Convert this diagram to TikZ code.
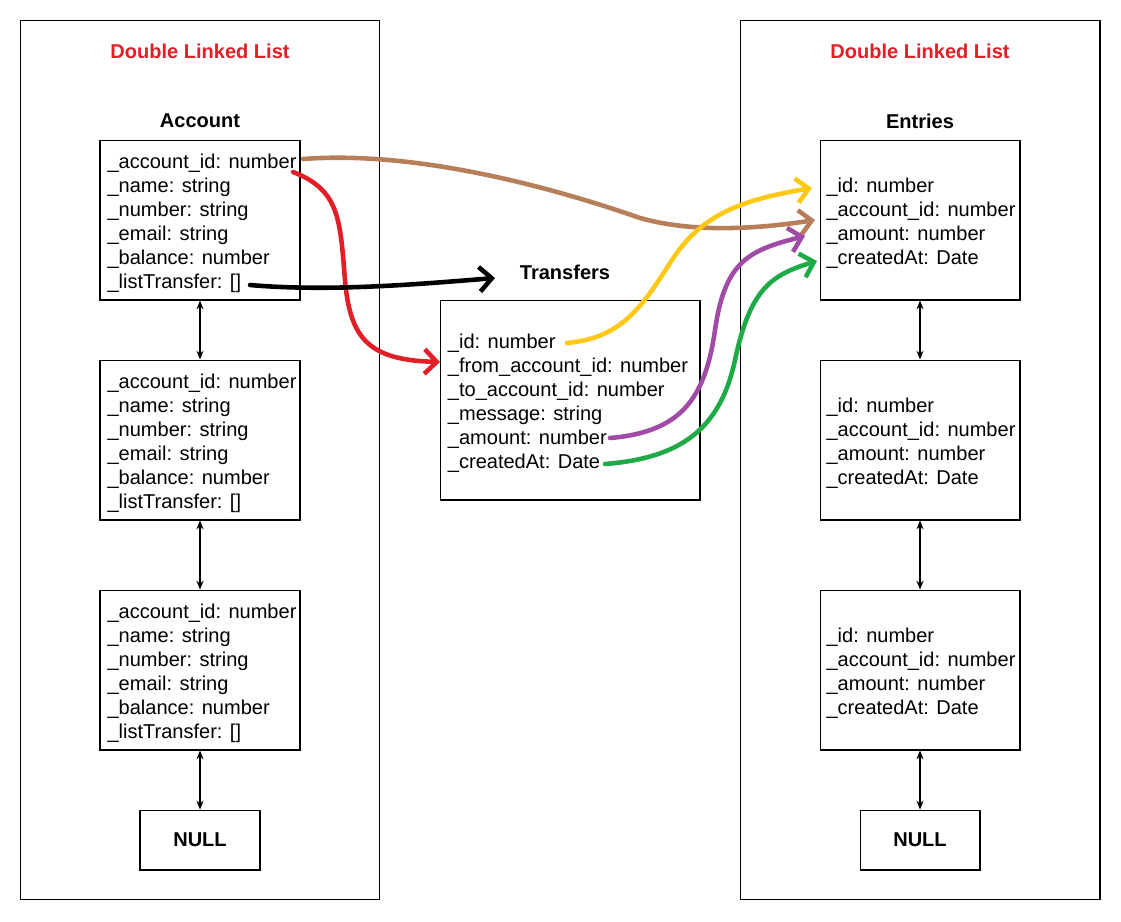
\documentclass[tikz,border=0pt]{standalone}
\usepackage{fontspec}
\setmainfont{Liberation Sans}
\usetikzlibrary{arrows.meta,calc}
\definecolor{titlered}{RGB}{226,31,38}
\definecolor{linkbrown}{RGB}{182,127,90}
\definecolor{linkred}{RGB}{226,31,38}
\definecolor{linkyellow}{RGB}{255,200,20}
\definecolor{linkpurple}{RGB}{160,75,165}
\definecolor{linkgreen}{RGB}{30,170,70}
\newcommand{\fieldsize}{\fontsize{11.4pt}{13.66pt}\selectfont}
\begin{document}
\begin{tikzpicture}[x=0.02cm,y=-0.02cm,
  every node/.style={inner sep=0pt, font=\fieldsize},
  listbox/.style={draw, line width=0.6pt, minimum width=7.2cm, minimum height=17.6cm},
  recbox/.style={draw, line width=0.6pt, minimum width=4cm, minimum height=3.2cm},
  fields/.style={align=left},
  nullbox/.style={draw, line width=0.6pt, minimum width=2.4cm, minimum height=1.2cm, font=\bfseries\fieldsize},
  title/.style={font=\bfseries\fieldsize},
  dlink/.style={line width=0.6pt, {Stealth[length=5pt,width=4pt]}-{Stealth[length=5pt,width=4pt]}},
  hand/.style={line width=2.6pt, line cap=round, line join=round, -{Straight Barb[length=7pt,width=14pt]}}]
\useasboundingbox[fill=white] (0,0) rectangle (1121,921);
% containers
\node[listbox] (leftlist) at (200,460) {};
\node[listbox] (rightlist) at (920,460) {};
\node[title, text=titlered] (lefttitle) at (200,51) {Double Linked List};
\node[title, text=titlered] (righttitle) at (920,51) {Double Linked List};
\node[title] (acctitle) at (200,121) {Account};
\node[title] (enttitle) at (920,121) {Entries};
\node[title] (trtitle) at (565,272) {Transfers};
% account records
\node[recbox] (acc1) at (200,220) {};
\node[recbox] (acc2) at (200,440) {};
\node[recbox] (acc3) at (200,670) {};
\node[fields] (acc1f) at (202,223) {\_account\_id: number\\\_name: string\\\_number: string\\\_email: string\\\_balance: number\\\_listTransfer: []};
\node[fields] (acc2f) at (202,443) {\_account\_id: number\\\_name: string\\\_number: string\\\_email: string\\\_balance: number\\\_listTransfer: []};
\node[fields] (acc3f) at (202,673) {\_account\_id: number\\\_name: string\\\_number: string\\\_email: string\\\_balance: number\\\_listTransfer: []};
\node[nullbox] (null1) at (200,840) {NULL};
% entries records
\node[recbox] (ent1) at (920,220) {};
\node[recbox] (ent2) at (920,440) {};
\node[recbox] (ent3) at (920,670) {};
\node[fields] (ent1f) at (921,223) {\_id: number\\\_account\_id: number\\\_amount: number\\\_createdAt: Date};
\node[fields] (ent2f) at (921,443) {\_id: number\\\_account\_id: number\\\_amount: number\\\_createdAt: Date};
\node[fields] (ent3f) at (921,673) {\_id: number\\\_account\_id: number\\\_amount: number\\\_createdAt: Date};
\node[nullbox] (null2) at (920,840) {NULL};
% transfer record
\node[recbox, minimum width=5.2cm, minimum height=4cm] (tr) at (570,400) {};
\node[fields] (trf) at (568,403) {\_id: number\\\_from\_account\_id: number\\\_to\_account\_id: number\\\_message: string\\\_amount: number\\\_createdAt: Date};
% list links
\draw[dlink] (acc1.south) -- (acc2.north);
\draw[dlink] (acc2.south) -- (acc3.north);
\draw[dlink] (acc3.south) -- (null1.north);
\draw[dlink] (ent1.south) -- (ent2.north);
\draw[dlink] (ent2.south) -- (ent3.north);
\draw[dlink] (ent3.south) -- (null2.north);
% hand drawn links
\coordinate (brS) at (303,159);
\coordinate (brE) at (815,220);
\coordinate (rdS) at (293,172);
\coordinate (rdE) at (440,362);
\coordinate (bkS) at (250,285);
\coordinate (bkE) at (495,278);
\coordinate (ylS) at (567,343);
\coordinate (ylE) at (812,188);
\coordinate (ppS) at (610,438);
\coordinate (ppE) at (805,236);
\coordinate (gnS) at (605,464);
\coordinate (gnE) at (817,261);
\draw[hand, linkbrown] (brS) .. controls (420,150) and (560,190) .. (640,218) .. controls (690,232) and (750,230) .. (brE);
\draw[hand, linkred] (rdS) .. controls (340,190) and (340,220) .. (345,280) .. controls (350,340) and (370,360) .. (rdE);
\draw[hand, black] (bkS) .. controls (330,292) and (420,284) .. (bkE);
\draw[hand, linkyellow] (ylS) .. controls (620,338) and (640,310) .. (670,263) .. controls (700,215) and (740,200) .. (ylE);
\draw[hand, linkpurple] (ppS) .. controls (680,432) and (705,400) .. (715,330) .. controls (725,260) and (750,250) .. (ppE);
\draw[hand, linkgreen] (gnS) .. controls (680,458) and (720,430) .. (735,360) .. controls (750,290) and (770,275) .. (gnE);
\end{tikzpicture}
\end{document}
